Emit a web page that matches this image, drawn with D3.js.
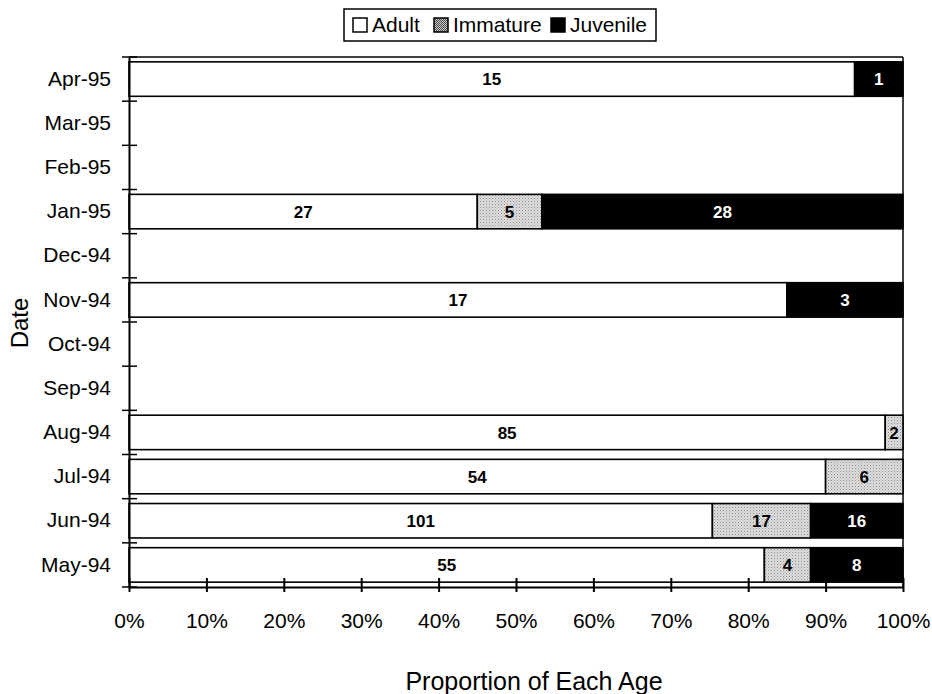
<!DOCTYPE html>
<html>
<head>
<meta charset="utf-8">
<script src="https://cdn.jsdelivr.net/npm/d3@7"></script>
<style>
  html, body { margin: 0; padding: 0; background: #fff; }
  svg { display: block; font-family: "Liberation Sans", Arial, sans-serif; }
</style>
</head>
<body>
<svg id="chart" width="932" height="694"></svg>
<script>
// Data (bottom to top as drawn)
const categories = ["May-94","Jun-94","Jul-94","Aug-94","Sep-94","Oct-94","Nov-94","Dec-94","Jan-95","Feb-95","Mar-95","Apr-95"];
const adult    = [55, 101, 54, 85, 0, 0, 17, 0, 27, 0, 0, 15];
const immature = [ 4,  17,  6,  2, 0, 0,  0, 0,  5, 0, 0,  0];
const juvenile = [ 8,  16,  0,  0, 0, 0,  3, 0, 28, 0, 0,  1];
const seriesNames = ["Adult", "Immature", "Juvenile"];
const xTicks = [0, 0.1, 0.2, 0.3, 0.4, 0.5, 0.6, 0.7, 0.8, 0.9, 1.0];

(function () {
const rows = categories.map((c, i) => ({ date: c, Adult: adult[i], Immature: immature[i], Juvenile: juvenile[i] }));

const svg = d3.select("#chart");
const mLeft = 129, mRight = 903, mTop = 57, mBottom = 587;

// Patterns
const defs = svg.append("defs");
const pat = defs.append("pattern").attr("id", "stipple").attr("patternUnits", "userSpaceOnUse")
  .attr("width", 3).attr("height", 3);
pat.append("rect").attr("width", 3).attr("height", 3).attr("fill", "#e0e0e0");
pat.append("rect").attr("x", 0).attr("y", 0).attr("width", 1).attr("height", 1).attr("fill", "#888");
pat.append("rect").attr("x", 1.5).attr("y", 1.5).attr("width", 1).attr("height", 1).attr("fill", "#a0a0a0");
const pat2 = defs.append("pattern").attr("id", "stippleDark").attr("patternUnits", "userSpaceOnUse")
  .attr("width", 2).attr("height", 2);
pat2.append("rect").attr("width", 2).attr("height", 2).attr("fill", "#d0d0d0");
pat2.append("rect").attr("width", 1).attr("height", 1).attr("fill", "#444");
pat2.append("rect").attr("x", 1).attr("y", 1).attr("width", 1).attr("height", 1).attr("fill", "#444");

const fills = { Adult: "#ffffff", Immature: "url(#stipple)", Juvenile: "#000000" };
const textColors = { Adult: "#000", Immature: "#000", Juvenile: "#fff" };

const x = d3.scaleLinear().domain([0, 1]).range([mLeft, mRight]);
const y = d3.scaleBand().domain(categories.slice().reverse()).range([mTop, mBottom])
  .paddingInner(0.22).paddingOuter(0.11);

const stack = d3.stack().keys(seriesNames).offset(d3.stackOffsetExpand);
const stacked = stack(rows);

// Plot frame (top & right)
svg.append("line").attr("x1", mLeft).attr("x2", mRight).attr("y1", mTop).attr("y2", mTop)
  .attr("stroke", "#000").attr("stroke-width", 1.5);
svg.append("line").attr("x1", mRight).attr("x2", mRight).attr("y1", mTop).attr("y2", mBottom)
  .attr("stroke", "#000").attr("stroke-width", 1.5);

// Bars
const layers = svg.append("g").selectAll("g").data(stacked).join("g");
layers.each(function(layer) {
  const key = layer.key;
  const g = d3.select(this);
  const segs = layer.filter(d => d.data[key] > 0);
  g.selectAll("rect").data(segs).join("rect")
    .attr("x", d => x(d[0]))
    .attr("width", d => x(d[1]) - x(d[0]))
    .attr("y", d => y(d.data.date))
    .attr("height", y.bandwidth())
    .attr("fill", fills[key])
    .attr("stroke", "#000")
    .attr("stroke-width", 1.6);
  g.selectAll("text").data(segs).join("text")
    .attr("x", d => (x(d[0]) + x(d[1])) / 2)
    .attr("y", d => y(d.data.date) + y.bandwidth() / 2)
    .attr("dy", "0.36em")
    .attr("text-anchor", "middle")
    .attr("font-size", 17)
    .attr("font-weight", "bold")
    .attr("fill", textColors[key])
    .text(d => d.data[key]);
});

// X axis
const xAxis = d3.axisBottom(x).tickValues(xTicks).tickFormat(d3.format(".0%")).tickSize(0).tickPadding(0);
const gx = svg.append("g").attr("transform", `translate(0,${mBottom})`).call(xAxis);
gx.select(".domain").attr("stroke", "#000").attr("stroke-width", 2);
gx.selectAll(".tick text").attr("font-size", 21).attr("fill", "#000").attr("font-family", "Liberation Sans, Arial, sans-serif")
  .attr("y", 41).attr("dy", 0);
gx.selectAll(".tick").append("line").attr("y1", -9).attr("y2", 5).attr("stroke", "#000").attr("stroke-width", 2);

// Y axis
const yAxis = d3.axisLeft(y).tickSize(0).tickPadding(0);
const gy = svg.append("g").attr("transform", `translate(${mLeft},0)`).call(yAxis);
gy.select(".domain").attr("stroke", "#000").attr("stroke-width", 2);
gy.selectAll(".tick text").attr("font-size", 21).attr("fill", "#000").attr("font-family", "Liberation Sans, Arial, sans-serif")
  .attr("x", -18);
const boundaries = d3.range(categories.length + 1).map(i => mTop + i * y.step());
gy.selectAll(".bound").data(boundaries).join("line").attr("class", "bound")
  .attr("x1", -7).attr("x2", 8).attr("y1", d => d).attr("y2", d => d)
  .attr("stroke", "#000").attr("stroke-width", 1.5);

// Axis titles
svg.append("text").attr("x", 534).attr("y", 690).attr("text-anchor", "middle")
  .attr("font-size", 25).text("Proportion of Each Age");
svg.append("text").attr("transform", "translate(28,323) rotate(-90)").attr("text-anchor", "middle")
  .attr("font-size", 24).text("Date");

// Legend
const leg = svg.append("g");
leg.append("rect").attr("x", 344).attr("y", 9).attr("width", 312).attr("height", 32)
  .attr("fill", "#fff").attr("stroke", "#000").attr("stroke-width", 1.5);
const legItems = [
  { name: seriesNames[0], sx: 353, tx: 372, fill: "#fff" },
  { name: seriesNames[1], sx: 434, tx: 453, fill: "url(#stippleDark)" },
  { name: seriesNames[2], sx: 551, tx: 570, fill: "#000" }
];
legItems.forEach(it => {
  leg.append("rect").attr("x", it.sx).attr("y", 18).attr("width", 14).attr("height", 14)
    .attr("fill", it.fill).attr("stroke", "#000").attr("stroke-width", 1.5);
  leg.append("text").attr("x", it.tx).attr("y", 32).attr("font-size", 21).text(it.name);
});
})();
</script>
</body>
</html>
